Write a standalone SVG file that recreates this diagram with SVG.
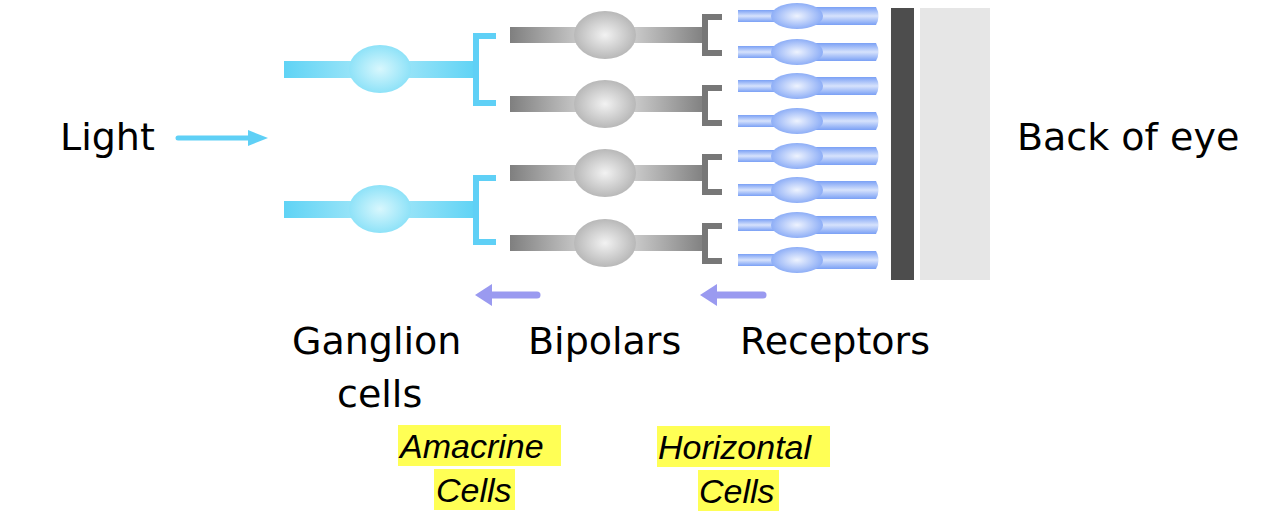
<svg xmlns="http://www.w3.org/2000/svg" width="1286" height="524" viewBox="0 0 1286 524">
<defs>
<linearGradient id="gBar" x1="0" x2="1" y1="0" y2="0"><stop offset="0" stop-color="#5fd3f5"/><stop offset="0.5" stop-color="#aeeaf9"/><stop offset="1" stop-color="#5fd3f5"/></linearGradient>
<radialGradient id="gEl"><stop offset="0" stop-color="#d8f7fd"/><stop offset="1" stop-color="#8ee2f8"/></radialGradient>
<linearGradient id="bBar" x1="0" x2="1" y1="0" y2="0"><stop offset="0" stop-color="#7f7f7f"/><stop offset="0.5" stop-color="#e6e6e6"/><stop offset="1" stop-color="#7f7f7f"/></linearGradient>
<radialGradient id="bEl"><stop offset="0" stop-color="#f2f2f2"/><stop offset="1" stop-color="#b8b8b8"/></radialGradient>
<linearGradient id="rBar" x1="0" x2="0" y1="0" y2="1"><stop offset="0" stop-color="#7aa0f5"/><stop offset="0.5" stop-color="#d6e2fc"/><stop offset="1" stop-color="#7aa0f5"/></linearGradient>
<radialGradient id="rEl" cx="0.5" cy="0.5" r="0.6"><stop offset="0" stop-color="#eef3fe"/><stop offset="1" stop-color="#7aa0f5"/></radialGradient>
<g id="rec">
<rect x="738" y="-6" width="60" height="12" fill="url(#rBar)"/>
<path d="M795,-9 H876 Q881,0 876,9 H795 Z" fill="url(#rBar)"/>
<ellipse cx="797" cy="0" rx="26" ry="13" fill="url(#rEl)"/>
</g>
<g id="bip">
<rect x="510" y="-8" width="195" height="16" fill="url(#bBar)"/>
<ellipse cx="605" cy="0" rx="31" ry="24" fill="url(#bEl)"/>
</g>
<g id="gang">
<rect x="284" y="-8" width="192" height="17" fill="url(#gBar)"/>
<ellipse cx="380" cy="0" rx="31" ry="24" fill="url(#gEl)"/>
</g>
</defs>
<style>
.t{font-family:"DejaVu Sans",Verdana,sans-serif;font-size:38px;fill:#000}
.i{font-family:"Liberation Sans",Arial,sans-serif;font-size:34px;font-style:italic;fill:#000}
.gb{fill:none;stroke:#5fd0f6;stroke-width:6}
.bb{fill:none;stroke:#777;stroke-width:6}
.hl{fill:#ffff55}
</style>
<rect x="891" y="8" width="23" height="272" fill="#4d4d4d"/>
<rect x="920" y="8" width="70" height="272" fill="#e6e6e6"/>
<g id="receptors">
<use href="#rec" y="16"/><use href="#rec" y="52"/><use href="#rec" y="86"/><use href="#rec" y="121"/>
<use href="#rec" y="156"/><use href="#rec" y="190"/><use href="#rec" y="225"/><use href="#rec" y="260"/>
</g>
<g id="bipolars">
<use href="#bip" y="35"/><use href="#bip" y="104"/><use href="#bip" y="173"/><use href="#bip" y="243"/>
</g>
<g id="ganglion">
<use href="#gang" y="69"/><use href="#gang" y="209"/>
</g>
<g id="connectors">
<path class="gb" d="M496,36 H476 V103 H496"/>
<path class="gb" d="M496,178 H476 V242 H496"/>
<path class="bb" d="M722,17 H705 V53 H722"/>
<path class="bb" d="M722,88 H705 V123 H722"/>
<path class="bb" d="M722,157 H705 V192 H722"/>
<path class="bb" d="M722,226 H705 V261 H722"/>
<line x1="178" y1="138" x2="252" y2="138" stroke="#5fd0f6" stroke-width="5" stroke-linecap="round"/>
<path d="M268,138 L248,130 V146 Z" fill="#5fd0f6"/>
<line x1="537" y1="295" x2="490" y2="295" stroke="#9a9af0" stroke-width="7" stroke-linecap="round"/>
<path d="M475,295 L492,284 V306 Z" fill="#9a9af0"/>
<line x1="763" y1="295" x2="715" y2="295" stroke="#9a9af0" stroke-width="7" stroke-linecap="round"/>
<path d="M700,295 L717,284 V306 Z" fill="#9a9af0"/>
</g>
<text class="t" x="60" y="150">Light</text>
<text class="t" x="1017" y="150">Back of eye</text>
<text class="t" x="292" y="354">Ganglion</text>
<text class="t" x="337" y="407">cells</text>
<text class="t" x="528" y="354">Bipolars</text>
<text class="t" x="740" y="354">Receptors</text>
<rect class="hl" x="398" y="425" width="163" height="41"/>
<rect class="hl" x="434" y="469" width="81" height="41"/>
<rect class="hl" x="657" y="426" width="173" height="41"/>
<rect class="hl" x="698" y="470" width="81" height="41"/>
<text class="i" x="400" y="458">Amacrine</text>
<text class="i" x="436" y="502">Cells</text>
<text class="i" x="658" y="459">Horizontal</text>
<text class="i" x="699" y="503">Cells</text>
</svg>
